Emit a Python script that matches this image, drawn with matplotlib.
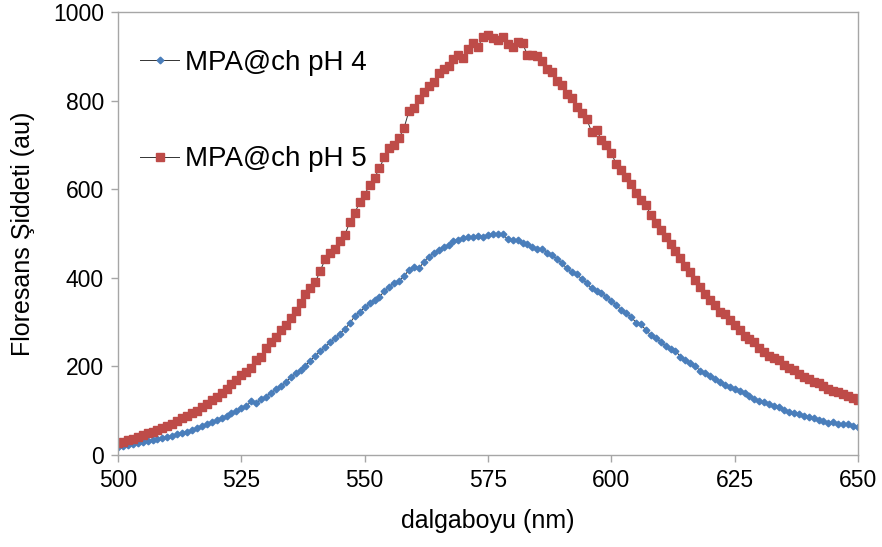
import numpy as np
import matplotlib
matplotlib.use("Agg")
import matplotlib.pyplot as plt

plt.rcParams['font.family'] = ['Liberation Sans', 'DejaVu Sans']

# dalga boyu (nm), 1 nm adim
wavelength = np.arange(500, 651)

# MPA@ch pH 4 (mavi)
ph4 = [
    19, 21, 23, 25, 27, 29, 31, 33, 35, 38,            # 500
    41, 44, 47, 50, 53, 56, 60, 65, 69, 74,            # 510
    79, 84, 89, 95, 100, 105, 110, 121, 117, 126,      # 520
    132, 140, 148, 155, 164, 175, 184, 193, 202, 213,  # 530
    224, 234, 244, 254, 264, 274, 285, 297, 314, 323,  # 540
    333, 342, 350, 357, 370, 380, 389, 393, 404, 418,  # 550
    424, 421, 436, 448, 455, 463, 469, 474, 482, 485,  # 560
    489, 491, 491, 494, 493, 497, 499, 498, 498, 487,  # 570
    486, 485, 478, 476, 470, 466, 466, 457, 451, 442,  # 580
    433, 421, 412, 409, 397, 389, 376, 371, 366, 357,  # 590
    348, 339, 327, 320, 312, 299, 295, 282, 271, 263,  # 600
    256, 246, 239, 235, 222, 214, 207, 201, 190, 184,  # 610
    178, 171, 164, 158, 154, 148, 145, 139, 133, 126,  # 620
    122, 120, 115, 111, 109, 102, 98, 94, 93, 89,      # 630
    85, 84, 79, 77, 73, 75, 71, 70, 69, 66, 64,        # 640-650
]

# MPA@ch pH 5 (kirmizi)
ph5 = [
    28, 30, 34, 37, 41, 45, 49, 53, 56, 62,            # 500
    66, 71, 77, 83, 89, 94, 100, 108, 115, 124,        # 510
    132, 141, 148, 160, 169, 180, 188, 196, 214, 222,  # 520
    241, 254, 267, 282, 293, 310, 324, 342, 363, 376,  # 530
    390, 416, 442, 455, 464, 483, 497, 527, 547, 570,  # 540
    588, 609, 626, 647, 673, 692, 700, 716, 739, 777,  # 550
    783, 804, 820, 833, 843, 863, 871, 878, 893, 903,  # 560
    897, 916, 929, 922, 944, 948, 942, 936, 944, 928,  # 570
    922, 933, 929, 903, 903, 901, 889, 871, 864, 844,  # 580
    835, 815, 805, 786, 773, 758, 730, 734, 711, 700,  # 590
    681, 657, 643, 628, 611, 591, 576, 564, 542, 524,  # 600
    508, 493, 476, 460, 445, 427, 414, 395, 380, 363,  # 610
    351, 339, 322, 318, 305, 293, 282, 269, 261, 254,  # 620
    242, 233, 223, 218, 214, 203, 197, 192, 183, 177,  # 630
    171, 165, 162, 156, 148, 144, 143, 137, 133, 128, 125,  # 640-650
]

labels = ['MPA@ch pH 4', 'MPA@ch pH 5']
x_ticks = [500, 525, 550, 575, 600, 625, 650]
y_ticks = [0, 200, 400, 600, 800, 1000]

fig = plt.figure(figsize=(8.82, 5.47), dpi=100)
ax = fig.add_axes([118 / 882, 92 / 547, 740 / 882, 443 / 547])

ax.plot(wavelength, ph4, color='#333333', linewidth=0.7, marker='D',
        markersize=3.4, markerfacecolor='#4a7ebb', markeredgecolor='#4a7ebb',
        label=labels[0])
ax.plot(wavelength, ph5, color='#333333', linewidth=0.7, marker='s',
        markersize=5.6, markerfacecolor='#be4b48', markeredgecolor='#be4b48',
        label=labels[1])

ax.set_xlim(500, 650)
ax.set_ylim(0, 1000)
ax.set_xticks(x_ticks)
ax.set_yticks(y_ticks)

for s in ax.spines.values():
    s.set_color('#a6a6a6')
    s.set_linewidth(1.0)
ax.tick_params(direction='out', length=5, width=1, color='#a6a6a6',
               labelsize=16.5, labelcolor='black', pad=5)

ax.set_xlabel('dalgaboyu (nm)', fontsize=18, labelpad=12)
ax.set_ylabel('Floresans Şiddeti (au)', fontsize=18, labelpad=13)

ax.legend(loc='upper left', bbox_to_anchor=(0.03, 0.915), frameon=False,
          fontsize=20, handlelength=1.4, handletextpad=0.2,
          labelspacing=2.55, borderpad=0, borderaxespad=0, markerscale=1.0)

fig.savefig('out.png', dpi=100)
